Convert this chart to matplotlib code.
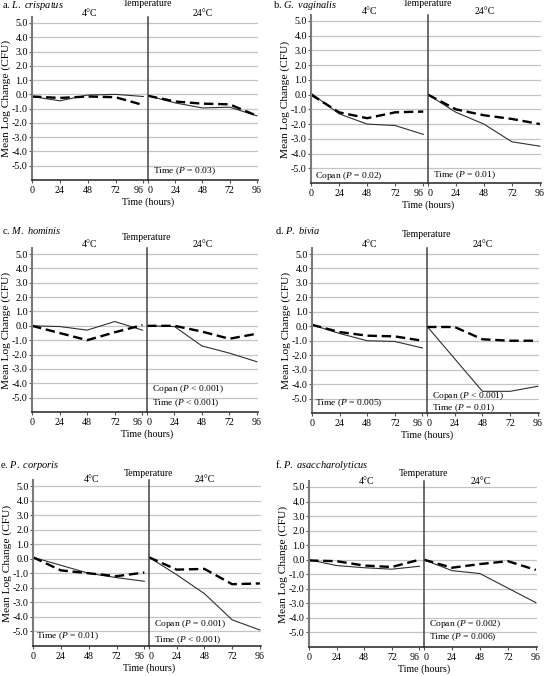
import matplotlib
matplotlib.use('Agg')
import matplotlib.pyplot as plt, numpy as np

plt.rcParams['font.family'] = ['Liberation Serif', 'DejaVu Serif']
plt.rcParams['mathtext.fontset'] = 'custom'
plt.rcParams['mathtext.rm'] = 'Liberation Serif'
plt.rcParams['mathtext.it'] = 'Liberation Serif:italic'

# sampling times (hours)
hours = [0, 24, 48, 72, 96]

panel_titles = ['a. $\\it{L.\\ crispatus}$', 'b. $\\it{G.\\ vaginalis}$', 'c. $\\it{M.\\ hominis}$',
                'd. $\\it{P.\\ bivia}$', 'e. $\\it{P.\\ corporis}$', 'f. $\\it{P.\\ asaccharolyticus}$']

# mean log change, one row per organism (a..f)
solid_4c = [[-0.15, -0.45, -0.05, 0.0, -0.15],
            [0.1, -1.3, -2.0, -2.1, -2.7],
            [0.0, -0.05, -0.3, 0.3, -0.3],
            [0.1, -0.5, -1.0, -1.05, -1.5],
            [0.1, -0.45, -1.0, -1.3, -1.55],
            [0.0, -0.4, -0.55, -0.65, -0.45]]
dashed_4c = [[-0.15, -0.25, -0.15, -0.2, -0.75],
             [0.0, -1.2, -1.6, -1.2, -1.15],
             [0.0, -0.5, -1.0, -0.45, 0.05],
             [0.1, -0.4, -0.65, -0.7, -1.0],
             [0.1, -0.8, -1.0, -1.2, -0.95],
             [-0.05, -0.1, -0.4, -0.5, 0.0]]
solid_24c = [[-0.1, -0.6, -0.95, -0.9, -1.5],
             [0.0, -1.2, -2.0, -3.2, -3.5],
             [0.0, -0.05, -1.4, -1.9, -2.5],
             [0.0, -2.25, -4.5, -4.5, -4.15],
             [0.1, -1.1, -2.4, -4.2, -4.9],
             [0.0, -0.75, -0.95, -1.95, -2.95]]
dashed_24c = [[-0.1, -0.5, -0.65, -0.7, -1.5],
              [0.0, -1.0, -1.4, -1.65, -2.0],
              [0.0, 0.0, -0.4, -0.9, -0.55],
              [-0.05, -0.05, -0.9, -1.0, -1.0],
              [0.1, -0.75, -0.7, -1.75, -1.7],
              [0.0, -0.55, -0.3, -0.1, -0.7]]

# significance notes (4 C side, 24 C side)
notes_4c = [[], ['Copan ($P$ = 0.02)'], [], ['Time ($P$ = 0.005)'], ['Time ($P$ = 0.01)'], []]
notes_24c = [['Time ($P$ = 0.03)'], ['Time ($P$ = 0.01)'],
             ['Copan ($P$ < 0.001)', 'Time ($P$ < 0.001)'],
             ['Copan ($P$ < 0.001)', 'Time ($P$ = 0.01)'],
             ['Copan ($P$ = 0.001)', 'Time ($P$ < 0.001)'],
             ['Copan ($P$ = 0.002)', 'Time ($P$ = 0.006)']]

W, H = 544, 676
# pixel layout: x0, xdiv, x1, y at 5.0, y at -6.0, temp y, header y, title x, title y
layout = [(32, 148, 258, 23, 180, 3, 13, 2, 6),
          (311, 428, 541, 21, 183, 3, 11, 273, 6),
          (32, 147, 258, 254, 412, 237, 244, 2, 231),
          (312, 427, 539, 254, 413, 235, 244, 275, 231),
          (33, 149, 261, 486, 646, 473, 480, 0, 465),
          (309, 424, 537, 487, 647, 473, 482, 275, 465)]
note_y = [[[], [-5.5], [], [-5.3], [-5.3], []],
          [[-5.4], [-5.5], [-4.4, -5.4], [-4.8, -5.65], [-4.5, -5.6], [-4.4, -5.3]]]

fig = plt.figure(figsize=(W / 100, H / 100), dpi=100)


def px_axes(x0, x1, ytop, ybot):
    return fig.add_axes([x0 / W, 1 - ybot / H, (x1 - x0) / W, (ybot - ytop) / H])


def style_axis(ax, xmax, first):
    ax.set_xlim(0, xmax)
    ax.set_ylim(-6, 5.4)
    for y in range(-5, 6):
        ax.axhline(y, color='#c4c4c4', lw=0.9, zorder=0)
    ax.spines['top'].set_visible(False)
    ax.spines['right'].set_visible(False)
    ax.spines['bottom'].set_color('#333333')
    ax.spines['bottom'].set_linewidth(1.2)
    ax.spines['left'].set_color('#7a7a7a' if first else '#444444')
    ax.spines['left'].set_linewidth(1.5 if first else 1.1)
    ax.set_xticks(hours)
    ax.tick_params(axis='x', length=2, pad=2.5, labelsize=7.2, color='#555555')
    labels = ax.get_xticklabels()
    if first:
        labels[-1].set_horizontalalignment('right')
        ax.set_yticks(np.arange(-5, 6))
        ax.set_yticklabels(['%.1f' % v for v in np.arange(-5, 6)])
        ax.tick_params(axis='y', length=2, pad=1, labelsize=7.2, color='#555555')
    else:
        labels[0].set_horizontalalignment('left')
        ax.set_yticks([])


for i in range(6):
    x0, xd, x1, y5, yb, yt, yh, tx, ty = layout[i]
    unit = (yb - y5) / 11.0
    top = y5 - 0.4 * unit
    left = px_axes(x0, xd, top, yb)
    right = px_axes(xd, x1, top, yb)
    style_axis(left, 100, True)
    style_axis(right, 97, False)

    left.plot(hours, solid_4c[i], color='#303030', lw=0.8)
    left.plot(hours, dashed_4c[i], color='black', lw=1.7, dashes=(4, 2))
    right.plot(hours, solid_24c[i], color='#303030', lw=0.8)
    right.plot(hours, dashed_24c[i], color='black', lw=1.7, dashes=(4, 2))

    for txt, y in zip(notes_4c[i], note_y[0][i]):
        left.text(3, y, txt, fontsize=6.8, va='center', ha='left')
    for txt, y in zip(notes_24c[i], note_y[1][i]):
        right.text(4.5, y, txt, fontsize=6.8, va='center', ha='left')

    # labels and headers in figure pixels
    fig.text(tx / W, 1 - ty / H, panel_titles[i], fontsize=7.5, va='center', ha='left')
    fig.text(xd / W, 1 - yt / H, 'Temperature', fontsize=7, va='center', ha='center')
    fig.text((x0 + xd) / 2 / W, 1 - yh / H, '4°C', fontsize=7, va='center', ha='center')
    fig.text((xd + x1) / 2 / W, 1 - yh / H, '24°C', fontsize=7, va='center', ha='center')
    fig.text(xd / W, 1 - (yb + 22) / H, 'Time (hours)', fontsize=7.2, va='center', ha='center')
    fig.text((x0 - 26) / W, 1 - (top + yb) / 2 / H, 'Mean Log Change (CFU)', fontsize=8.2,
             va='center', ha='center', rotation=90)

fig.savefig('out.png', dpi=100)
